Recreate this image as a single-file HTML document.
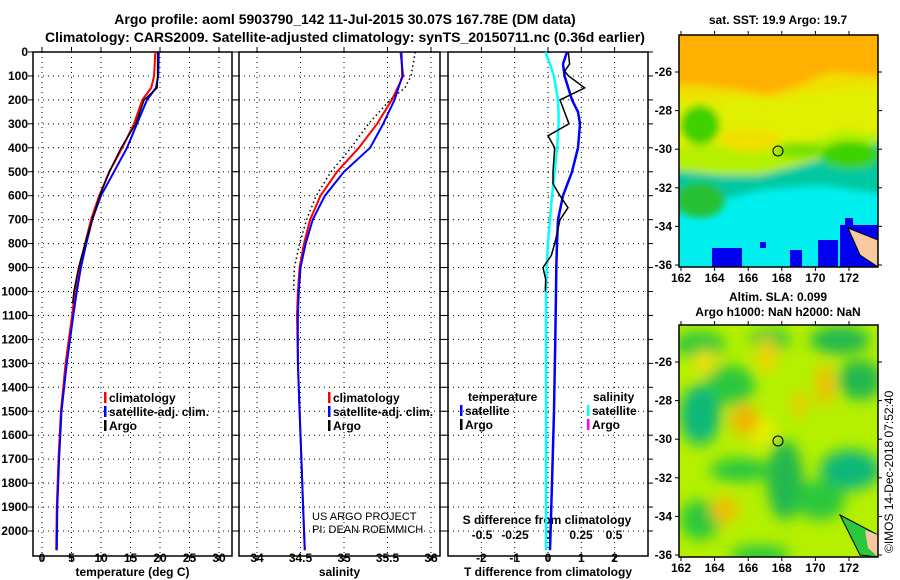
<!DOCTYPE html>
<html><head><meta charset="utf-8">
<style>
body{margin:0;background:#fff;}
svg{display:block;font-family:"Liberation Sans",Arial,sans-serif;}
.b{font-weight:bold;font-size:12px;}
.t{font-weight:bold;font-size:14px;}
</style></head>
<body>
<svg id="c" width="900" height="580" viewBox="0 0 900 580" xmlns="http://www.w3.org/2000/svg">
<defs>
<filter id="bl" x="-20%" y="-20%" width="140%" height="140%"><feGaussianBlur stdDeviation="4"/></filter>
<filter id="bl2" x="-30%" y="-30%" width="160%" height="160%"><feGaussianBlur stdDeviation="7"/></filter>
<clipPath id="cm1"><rect x="679" y="35" width="199" height="232"/></clipPath>
<clipPath id="cm2"><rect x="679" y="325" width="199" height="232"/></clipPath>
</defs>
<text class="t" x="345" y="24" text-anchor="middle">Argo profile: aoml 5903790_142 11-Jul-2015 30.07S 167.78E (DM data)</text>
<text class="t" x="345" y="42" text-anchor="middle">Climatology: CARS2009. Satellite-adjusted climatology: synTS_20150711.nc (0.36d earlier)</text>

<g id="maps">
<text class="b" x="778" y="24" text-anchor="middle">sat. SST: 19.9 Argo: 19.7</text>
<g clip-path="url(#cm1)">
<rect x="679" y="35" width="199" height="232" fill="#00f0f0"/>
<g filter="url(#bl)">
<polygon points="670,25 890,25 890,195 820,185 760,190 720,200 670,215" fill="#00c8a0"/>
<polygon points="670,25 890,25 890,140 800,165 760,175 720,175 670,170" fill="#b4f000"/>
<polygon points="670,25 890,25 890,135 840,130 790,150 740,148 700,145 670,150" fill="#e0f000"/>
<ellipse cx="700" cy="125" rx="20" ry="20" fill="#3cd200"/>
<ellipse cx="850" cy="155" rx="30" ry="14" fill="#3cd200"/>
<ellipse cx="800" cy="150" rx="25" ry="8" fill="#78e000"/>
<ellipse cx="700" cy="200" rx="25" ry="18" fill="#28c030"/>
<ellipse cx="750" cy="140" rx="30" ry="12" fill="#f0e000"/>
<polygon points="670,25 890,25 890,85 830,90 800,95 770,100 740,97 700,100 670,100" fill="#f0e000"/>
<polygon points="670,25 890,25 890,78 830,72 800,85 770,95 740,90 700,85 670,85" fill="#ffb000"/>
<rect x="670" y="225" width="60" height="50" fill="#00f0f0"/>
</g>
<g fill="#0000f0">
<rect x="712" y="248" width="30" height="19"/><rect x="760" y="242" width="6" height="6"/><rect x="790" y="250" width="12" height="17"/>
<rect x="818" y="240" width="20" height="27"/><rect x="840" y="225" width="38" height="42"/><rect x="845" y="218" width="8" height="10"/>
</g>
<polygon points="848,228 878,240 878,267 860,255" fill="#f8c8a0" stroke="#000" stroke-width="1"/>
<circle cx="778" cy="151" r="5" fill="none" stroke="#000" stroke-width="1"/>
</g>
<rect x="679" y="35" width="199" height="232" fill="none" stroke="#000" stroke-width="1.5"/>

<text class="b" x="778" y="301" text-anchor="middle">Altim. SLA: 0.099</text>
<text class="b" x="778" y="316" text-anchor="middle">Argo h1000: NaN h2000: NaN</text>
<g clip-path="url(#cm2)">
<rect x="679" y="325" width="199" height="232" fill="#b4f000"/>
<g filter="url(#bl2)">
<ellipse cx="700" cy="345" rx="25" ry="14" fill="#2cc83c"/>
<ellipse cx="770" cy="340" rx="20" ry="12" fill="#2cc83c"/>
<ellipse cx="840" cy="340" rx="30" ry="14" fill="#20b850"/>
<ellipse cx="730" cy="385" rx="25" ry="20" fill="#2cc83c"/>
<ellipse cx="700" cy="415" rx="20" ry="30" fill="#10b878"/>
<ellipse cx="860" cy="380" rx="22" ry="20" fill="#20b850"/>
<ellipse cx="850" cy="470" rx="30" ry="20" fill="#10b878"/>
<ellipse cx="785" cy="480" rx="18" ry="40" fill="#20b850"/>
<ellipse cx="740" cy="470" rx="30" ry="12" fill="#2cc83c"/>
<ellipse cx="700" cy="520" rx="20" ry="20" fill="#2cc83c"/>
<ellipse cx="820" cy="500" rx="25" ry="20" fill="#2cc83c"/>
<ellipse cx="760" cy="555" rx="30" ry="10" fill="#2cc83c"/>
<ellipse cx="760" cy="430" rx="15" ry="15" fill="#e8f000"/>
<ellipse cx="745" cy="420" rx="14" ry="16" fill="#f0b400"/>
<ellipse cx="767" cy="355" rx="10" ry="18" fill="#f0d200"/>
<ellipse cx="825" cy="385" rx="10" ry="20" fill="#f0c000"/>
<ellipse cx="800" cy="405" rx="8" ry="12" fill="#f0c800"/>
<ellipse cx="725" cy="510" rx="14" ry="14" fill="#f0c000"/>
<ellipse cx="705" cy="362" rx="12" ry="12" fill="#f0e000"/>
</g>
<polygon points="840,515 878,535 878,557 860,555" fill="#2cc83c" stroke="#000" stroke-width="1"/>
<polygon points="865,530 878,535 878,557 868,548" fill="#f8c8a0"/>
<circle cx="778" cy="441" r="5" fill="none" stroke="#000" stroke-width="1"/>
</g>
<rect x="679" y="325" width="199" height="232" fill="none" stroke="#000" stroke-width="1.5"/>
<text font-size="12" x="893" y="553" transform="rotate(-90 893 553)">©IMOS 14-Dec-2018 07:52:40</text>
</g>

<text font-size="11" x="312" y="520">US ARGO PROJECT</text>
<text font-size="11" x="312" y="533">PI: DEAN ROEMMICH</text>
</svg>
<script>
// ---- data ----
const depthTicks=[0,100,200,300,400,500,600,700,800,900,1000,1100,1200,1300,1400,1500,1600,1700,1800,1900,2000];
const tTicks=[0,5,10,15,20,25,30];
const sTicks=[34,34.5,35,35.5,36];
const dTicks=[-2,-1,0,1,2];
const sdTicks=[-0.5,-0.25,0,0.25,0.5];
const sdTickLabels=["-0.5","-0.25","0","0.25","0.5"];
const latTicks=[-26,-28,-30,-32,-34,-36];
const lonTicks=[162,164,166,168,170,172];

const tDepth=[0,100,150,200,300,400,500,600,700,800,900,1000,1100,1300,1500,1700,1900,2080];
const tClim=[19.2,19.0,18.5,17.0,15.6,13.6,11.4,9.7,8.3,7.3,6.3,5.6,5.1,4.0,3.2,2.8,2.5,2.4];
const tSat=[19.8,19.7,19.3,17.8,16.1,14.4,12.2,10.0,8.5,7.5,6.6,5.9,5.3,4.2,3.3,2.9,2.6,2.5];
const argoDepth=[0,100,150,200,300,400,500,600,700,800,900,1000,1050];
const tArgo=[19.6,19.6,19.5,17.3,15.9,13.4,11.4,9.8,8.5,7.3,6.2,5.4,5.2];

const sDepth=[0,100,200,300,400,500,600,700,800,900,1000,1100,1300,1500,1700,1900,2080];
const sClim=[35.65,35.68,35.55,35.38,35.17,34.92,34.73,34.61,34.54,34.49,34.47,34.46,34.47,34.49,34.51,34.53,34.55];
const sSat=[35.66,35.67,35.58,35.45,35.30,35.00,34.78,34.64,34.56,34.50,34.48,34.47,34.47,34.49,34.51,34.53,34.55];
const sArgoDepth=[0,100,150,200,300,400,500,600,700,800,900,1000];
const sArgo=[35.82,35.77,35.70,35.53,35.28,35.08,34.85,34.68,34.57,34.49,34.43,34.42];

const dArgoDepth=[0,50,80,100,150,180,200,300,350,400,500,550,600,650,700,800,850,900,950,1000];
const dArgoT=[0.61,0.65,0.5,0.62,1.1,0.66,0.36,0.63,0.0,0.2,0.15,0.15,0.36,0.6,0.36,0.2,0.1,-0.15,-0.07,-0.08];
const dSatDepth=[0,50,100,200,250,300,400,500,600,700,800,900,1000,1200,1500,1800,2080];
const dSatT=[0.57,0.45,0.5,0.72,0.9,0.96,0.9,0.72,0.45,0.3,0.27,0.25,0.24,0.22,0.18,0.12,0.06];
const dSatS=[-0.02,0.015,0.045,0.075,0.08,0.08,0.07,0.05,0.03,0.015,0.0,-0.01,-0.015,-0.015,-0.015,-0.015,-0.015];

// ---- scales ----
const Y=d=>52+d*0.2395;
const xT=v=>42+v*5.9;
const xS=v=>257+(v-34)*87;
const xD=v=>548+v*33.3;
const xSD=v=>548+v*132;
const yLat1=v=>72+(-26-v)*19.3;
const yLat2=v=>362+(-26-v)*19.3;
const xLon=v=>681+(v-162)*16.8;

const NS="http://www.w3.org/2000/svg";
const svg=document.getElementById('c');
const mk=(tag,attrs,parent)=>{const e=document.createElementNS(NS,tag);for(const k in attrs)e.setAttribute(k,attrs[k]);(parent||svg).appendChild(e);return e;};

const panels=[
 {x0:33,x1:232,xs:xT,ticks:tTicks,labels:tTicks.map(String),title:"temperature (deg C)",name:"temperature-panel"},
 {x0:239,x1:440,xs:xS,ticks:sTicks,labels:["34","34.5","35","35.5","36"],title:"salinity",name:"salinity-panel"},
 {x0:448,x1:648,xs:xD,ticks:dTicks,labels:dTicks.map(String),title:"T difference from climatology",name:"difference-panel"}
];
const pTop=52,pBot=556;
panels.forEach((p,pi)=>{
 const g=mk('g',{});
 
 
 depthTicks.forEach(d=>{
  const l=mk('line',{x1:p.x0,x2:p.x1,y1:Y(d),y2:Y(d),stroke:"#000","stroke-width":1,"stroke-dasharray":"1,4"},g);
  
  
  mk('line',{x1:p.x0-5,x2:p.x0,y1:Y(d),y2:Y(d),stroke:"#000"},g);
  mk('line',{x1:p.x1,x2:p.x1+5,y1:Y(d),y2:Y(d),stroke:"#000"},g);
 });
 p.ticks.forEach((t,i)=>{
  const x=p.xs(t);
  const l=mk('line',{x1:x,x2:x,y1:pTop,y2:pBot,stroke:"#000","stroke-dasharray":"1,4"},g);
  
  
  mk('line',{x1:x,x2:x,y1:pTop-5,y2:pTop,stroke:"#000"},g);
  mk('line',{x1:x,x2:x,y1:pBot,y2:pBot+5,stroke:"#000"},g);
  const tx=mk('text',{x:x,y:562,"text-anchor":"middle",class:"b"},g);
  tx.textContent=p.labels[i];
  
  
 });
 const tt=mk('text',{x:(p.x0+p.x1)/2,y:576,"text-anchor":"middle",class:"b"},g);
 tt.textContent=p.title;
 
 
 const r=mk('rect',{x:p.x0,y:pTop,width:p.x1-p.x0,height:pBot-pTop,fill:"none",stroke:"#000","stroke-width":1.5},g);
 
 
});
depthTicks.forEach(d=>{
 const t=mk('text',{x:28,y:Y(d)+4,"text-anchor":"end",class:"b"});
 t.textContent=String(d);
 
 
});
sdTicks.forEach((v,i)=>{
 const t=mk('text',{x:xSD(v),y:539,"text-anchor":"middle",class:"b"});
 t.textContent=sdTickLabels[i];
 
 
});
const sdt=mk('text',{x:547,y:524,"text-anchor":"middle",class:"b"});
sdt.textContent="S difference from climatology";



function line(depths,vals,xs,color,w,name,dash){
 const pts=depths.map((d,i)=>xs(vals[i]).toFixed(1)+","+Y(d).toFixed(1)).join(" ");
 const a={points:pts,fill:"none",stroke:color,"stroke-width":w};
 if(dash)a["stroke-dasharray"]=dash;
 const p=mk('polyline',a);
 
 
}
line(tDepth,tClim,xT,"#f00",2,"temperature-climatology-line");
line(tDepth,tSat,xT,"#00f",2,"temperature-satellite-line");
line(argoDepth,tArgo,xT,"#000",1.5,"temperature-argo-line");
line(sDepth,sClim,xS,"#f00",2,"salinity-climatology-line");
line(sDepth,sSat,xS,"#00f",2,"salinity-satellite-line");
line(sArgoDepth,sArgo,xS,"#000",1.5,"salinity-argo-line","1.5,3");
line(dSatDepth,dSatS,xSD,"#0ff",2.5,"s-diff-satellite-line");
line(dSatDepth,dSatT,xD,"#00f",2.5,"t-diff-satellite-line");
line(dArgoDepth,dArgoT,xD,"#000",1.5,"t-diff-argo-line");

function legend(x,y,items){
 items.forEach((it,i)=>{
  const yy=y+i*14;
  const m=mk('rect',{x:x,y:yy-10,width:2.5,height:11,fill:it[1]});
  
  
  const t=mk('text',{x:x+5,y:yy,class:"b"});
  t.textContent=it[0];
  
  
 });
}
legend(104,402,[["climatology","#f00"],["satellite-adj. clim.","#00f"],["Argo","#000"]]);
legend(328,402,[["climatology","#f00"],["satellite-adj. clim.","#00f"],["Argo","#000"]]);
const lt=mk('text',{x:468,y:401,class:"b"});lt.textContent="temperature";


const ls=mk('text',{x:593,y:401,class:"b"});ls.textContent="salinity";


legend(460,415,[["satellite","#00f"],["Argo","#000"]]);
legend(587,415,[["satellite","#0ff"],["Argo","#f0f"]]);

[[yLat1,35,267],[yLat2,325,557]].forEach(m=>{
 latTicks.forEach(v=>{
  const y=m[0](v);
  mk('line',{x1:675,x2:679,y1:y,y2:y,stroke:"#000"});
  mk('line',{x1:878,x2:882,y1:y,y2:y,stroke:"#000"});
  const t=mk('text',{x:672,y:y+4,"text-anchor":"end",class:"b"});
  t.textContent=String(v);
  
  
 });
 lonTicks.forEach(v=>{
  const x=xLon(v);
  mk('line',{x1:x,x2:x,y1:m[1]-4,y2:m[1],stroke:"#000"});
  mk('line',{x1:x,x2:x,y1:m[2],y2:m[2]+4,stroke:"#000"});
  const t=mk('text',{x:x,y:m[2]+15,"text-anchor":"middle",class:"b"});
  t.textContent=String(v);
  
  
 });
});
</script>
</body></html>
